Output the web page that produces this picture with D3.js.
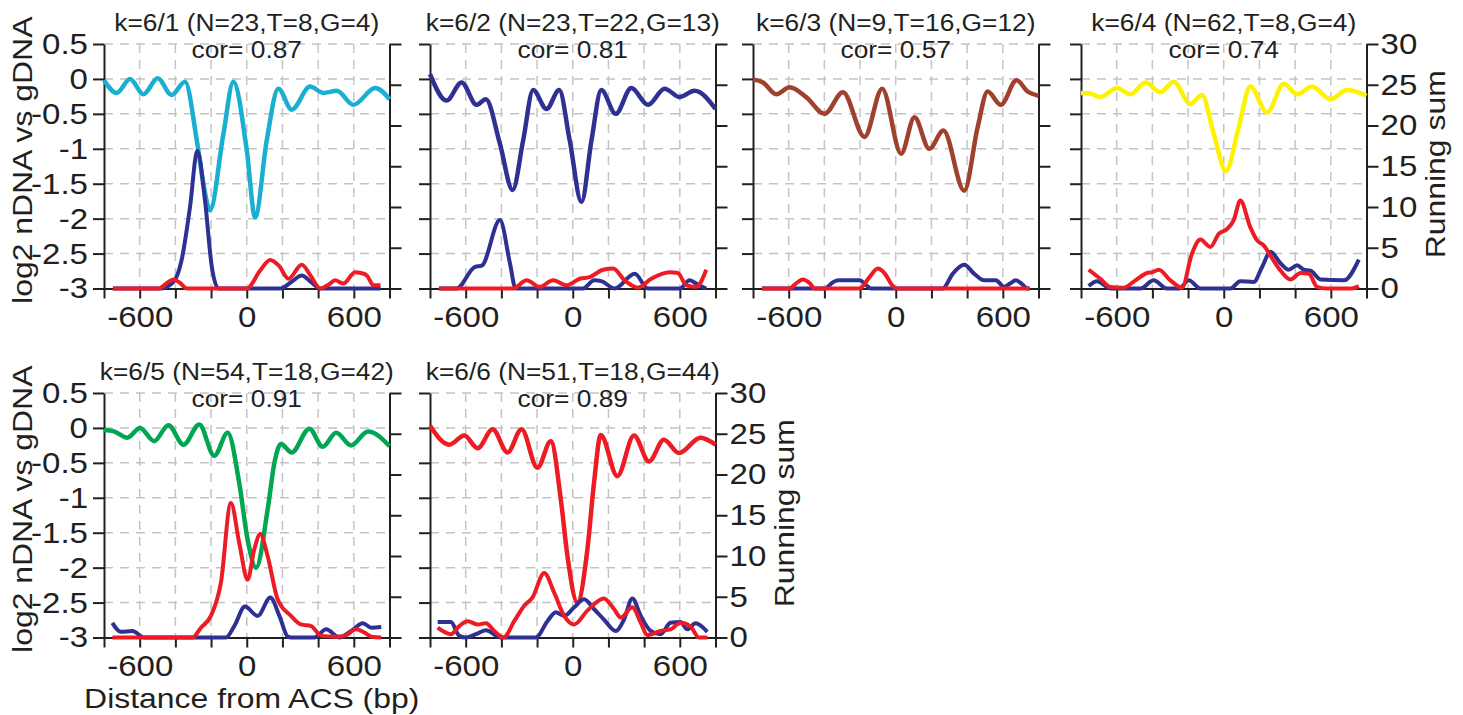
<!DOCTYPE html>
<html>
<head>
<meta charset="utf-8">
<script src="https://cdn.jsdelivr.net/npm/d3@7"></script>
<style>
body { margin: 0; background: #fff; }
svg text { font-family: "Liberation Sans", Arial, Helvetica, sans-serif; fill: #231f20; }
.grid line { stroke: #c4c4c4; stroke-width: 1.5; stroke-dasharray: 9,7; }
.axis path, .axis line { stroke: #231f20; stroke-width: 2; }
.axis text { font-size: 29.5px; }
</style>
</head>
<body>
<svg width="1463" height="715"></svg>
<script>
// panel headers
var titles = ['k=6/1 (N=23,T=8,G=4)', 'k=6/2 (N=23,T=22,G=13)', 'k=6/3 (N=9,T=16,G=12)',
              'k=6/4 (N=62,T=8,G=4)', 'k=6/5 (N=54,T=18,G=42)', 'k=6/6 (N=51,T=18,G=44)'];
var cors = ['0.87', '0.81', '0.57', '0.74', '0.91', '0.89'];
var mainColors = ['#1aafd0', '#2e3192', '#a0412d', '#fff200', '#00a651', '#ed1c24'];

var xTicks = [-800, -600, -400, -200, 0, 200, 400, 600, 800];
var xLabels = [-600, 0, 600];
var yLeftTicks = [0.5, 0, -0.5, -1, -1.5, -2, -2.5, -3];
var yRightTicks = [0, 5, 10, 15, 20, 25, 30];

// log2 nDNA vs gDNA  [bp, value]
var ratio1 = [[-800,-0.02],[-729,-0.2],[-654,0],[-579,-0.22],[-499,0.01],[-421,-0.23],[-346,-0.04],[-280,-0.88],[-243,-1.5],[-206,-1.88],[-131,-0.79],[-75,-0.04],[0,-1.02],[47,-1.98],[112,-0.88],[177,-0.14],[252,-0.44],[355,-0.11],[430,-0.2],[505,-0.17],[598,-0.37],[720,-0.13],[800,-0.29]];
var ratio2 = [[-800,0.07],[-707,-0.31],[-623,-0.05],[-539,-0.37],[-487,-0.29],[-408,-0.93],[-337,-1.59],[-278,-0.88],[-222,-0.16],[-147,-0.43],[-76,-0.16],[-17,-0.88],[49,-1.76],[105,-0.88],[160,-0.16],[241,-0.5],[328,-0.13],[422,-0.37],[515,-0.14],[599,-0.26],[683,-0.17],[800,-0.43]];
var ratio3 = [[-800,-0.01],[-744,-0.05],[-669,-0.22],[-595,-0.12],[-502,-0.26],[-399,-0.5],[-296,-0.19],[-175,-0.83],[-76,-0.14],[30,-1.07],[105,-0.55],[188,-1.0],[267,-0.74],[384,-1.6],[459,-0.69],[515,-0.18],[589,-0.37],[677,-0.02],[739,-0.18],[800,-0.24]];
var ratio4 = [[-800,-0.2],[-748,-0.21],[-692,-0.26],[-598,-0.13],[-523,-0.22],[-439,-0.05],[-355,-0.19],[-280,-0.04],[-187,-0.36],[-122,-0.23],[-56,-0.79],[13,-1.32],[84,-0.69],[149,-0.11],[243,-0.48],[336,-0.07],[411,-0.22],[495,-0.11],[598,-0.29],[691,-0.16],[800,-0.24]];
var ratio5 = [[-800,-0.03],[-744,-0.05],[-669,-0.14],[-598,0],[-519,-0.19],[-439,0.04],[-354,-0.24],[-266,0.05],[-182,-0.4],[-107,-0.07],[-42,-0.79],[5,-1.6],[52,-2.0],[117,-1.17],[155,-0.5],[192,-0.23],[252,-0.35],[351,-0.01],[426,-0.27],[501,-0.07],[585,-0.25],[679,-0.05],[800,-0.26]];
var ratio6 = [[-800,0.03],[-692,-0.24],[-608,-0.11],[-533,-0.29],[-449,-0.02],[-365,-0.35],[-287,-0.02],[-198,-0.57],[-123,-0.19],[-67,-1.02],[-30,-1.83],[26,-2.5],[82,-1.74],[119,-0.79],[157,-0.1],[250,-0.69],[343,-0.11],[427,-0.48],[511,-0.17],[595,-0.36],[716,-0.14],[800,-0.24]];

// running sums, navy series  [bp, count]
var navy1 = [[-750,0],[-486,0],[-411,0.8],[-365,3.5],[-318,10],[-277,16.9],[-234,10.8],[-196,2.7],[-159,0],[187,0],[250,0.8],[308,1.6],[360,0.8],[411,0],[750,0]];
var navy2 = [[-750,0],[-651,0],[-548,2.65],[-510,2.8],[-408,8.4],[-352,3.1],[-320,0],[58,0],[120,1],[160,0.9],[235,0],[347,1.8],[422,0],[600,0],[655,1],[700,0.5],[748,0]];
var navy3 = [[-750,0],[-399,0],[-350,0.8],[-320,1],[-203,1],[-160,0.3],[-140,0],[263,0],[319,1.8],[384,2.9],[440,1.8],[496,1],[561,1],[608,0.2],[640,0.6],[673,1],[705,0.6],[739,0],[750,0]];
var navy4 = [[-757,0.3],[-710,0.9],[-636,0],[-467,0],[-393,1],[-318,0],[-250,0],[-196,1],[-131,0],[37,0],[93,0.9],[168,0.8],[215,2.65],[262,4.5],[318,3.1],[364,2.3],[411,2.85],[449,2.3],[486,2.2],[542,1.1],[673,1],[757,3.55]];
var navy5 = [[-753,1.8],[-706,0.7],[-641,0.8],[-575,0],[-117,0],[-70,1.4],[-10,3.8],[61,2.65],[132,4.9],[183,2.65],[230,0.1],[250,0],[379,0],[445,1],[520,0],[585,0.8],[651,1.75],[698,1.2],[754,1.3]];
var navy6 = [[-757,1.9],[-683,1.9],[-636,0.2],[-599,0],[-543,0.4],[-487,0.9],[-403,0],[-207,0],[-142,2],[-95,3.1],[-48,2.65],[8,3.7],[63,4.7],[119,3.5],[175,2.2],[241,0.8],[287,2.2],[334,4.8],[381,2.65],[437,0.8],[492,0.4],[548,1.8],[604,1.9],[642,1],[688,1.75],[754,0.7]];

// running sums, red series
var red1 = [[-750,0],[-495,0],[-440,0.8],[-411,1.1],[-375,0.7],[-336,0],[0,0],[75,2.2],[131,3.5],[180,2.8],[234,1.2],[308,2.9],[360,1.5],[411,0],[460,0.5],[495,1],[542,0.6],[607,2],[640,1.9],[673,1.6],[710,0.4],[750,0.4]];
var red2 = [[-750,0],[-334,0],[-259,1],[-185,0.2],[-110,1],[-35,0.4],[39,1.2],[95,1.4],[170,2.3],[226,2.45],[291,1],[366,0.1],[440,1.2],[543,2],[589,1.9],[636,0.4],[692,0.2],[748,2.3]];
var red3 = [[-750,0],[-595,0],[-560,0.6],[-520,1.1],[-480,0.6],[-455,0],[-203,0],[-147,1.4],[-101,2.45],[-60,1.8],[-20,0.4],[2,0],[750,0]];
var red4 = [[-757,2.3],[-692,1.2],[-636,0.2],[-561,0.1],[-495,1],[-430,1.9],[-400,2.0],[-364,2.3],[-299,1],[-234,0.1],[-178,4.3],[-131,6],[-75,5.1],[-28,6.7],[19,7.3],[56,8.4],[93,10.8],[149,7.5],[187,5.9],[224,5.3],[271,3.7],[318,2.2],[374,1.1],[430,1.9],[477,1.8],[523,0.2],[579,0],[710,0],[757,0.3]];
var red5 = [[-753,0],[-304,0],[-257,1.2],[-201,2.65],[-145,6.7],[-89,16.5],[-42,11.6],[5,7.1],[42,10.8],[76,12.7],[117,10],[173,4.7],[248,2.65],[304,1.6],[361,1.4],[417,0.2],[492,0.1],[548,0.2],[613,1],[660,0.6],[698,0.1],[754,0]];
var red6 = [[-757,1.2],[-683,0.4],[-636,1.4],[-589,2],[-533,1.6],[-487,1.75],[-440,0.8],[-388,0],[-328,2],[-272,3.9],[-226,4.9],[-160,7.9],[-104,5.5],[-48,2.65],[8,1.6],[82,3.3],[175,4.8],[231,3.5],[269,2.45],[334,3.7],[381,1.8],[418,0.3],[492,0.8],[548,1],[604,1.8],[660,1.35],[707,0],[754,0]];

var ratios = [ratio1, ratio2, ratio3, ratio4, ratio5, ratio6];
var navys = [navy1, navy2, navy3, navy4, navy5, navy6];
var reds = [red1, red2, red3, red4, red5, red6];

var NAVY = '#2e3192', RED = '#ed1c24';
var colLeft = [104, 430, 753, 1081];
var rowTop = [44, 393];
var W = 285.5, H = 244.5;
var fmt = function(d) { return String(d); };

var svg = d3.select('svg');

function panel(i) {
	var row = i < 4 ? 0 : 1;
	var col = i < 4 ? i : i - 4;
	var lastInRow = (i === 3 || i === 5);
	var firstInRow = (col === 0);

	var x = d3.scaleLinear().domain([-800, 800]).range([0, W]);
	var yL = d3.scaleLinear().domain([-3, 0.5]).range([H, 0]);
	var yR = d3.scaleLinear().domain([0, 30]).range([H, 0]);

	var g = svg.append('g')
		.attr('transform', 'translate(' + colLeft[col] + ',' + rowTop[row] + ')');

	// dashed grid
	var grid = g.append('g').attr('class', 'grid');
	grid.selectAll('.v').data(xTicks.slice(1, -1)).enter().append('line')
		.attr('x1', x).attr('x2', x).attr('y1', 0).attr('y2', H);
	grid.selectAll('.h').data(yLeftTicks.slice(0, -1)).enter().append('line')
		.attr('x1', 0).attr('x2', W).attr('y1', yL).attr('y2', yL);

	// titles
	g.append('text').attr('x', W / 2).attr('y', -13)
		.attr('text-anchor', 'middle').style('font-size', '23.5px')
		.text(titles[i]);
	g.append('text').attr('x', W / 2).attr('y', 13.5)
		.attr('text-anchor', 'middle').style('font-size', '23.5px')
		.text('cor= ' + cors[i]);

	// axes
	g.append('g').attr('class', 'axis')
		.attr('transform', 'translate(0,' + H + ')')
		.call(d3.axisBottom(x).tickValues(xTicks).tickSize(10).tickPadding(8).tickSizeOuter(0)
			.tickFormat(function(d) { return xLabels.indexOf(d) >= 0 ? fmt(d) : ''; }));

	g.append('g').attr('class', 'axis')
		.call(d3.axisLeft(yL).tickValues(yLeftTicks).tickSize(11).tickPadding(5).tickSizeOuter(0)
			.tickFormat(firstInRow ? fmt : function() { return ''; }));

	g.append('g').attr('class', 'axis')
		.attr('transform', 'translate(' + W + ',0)')
		.call(d3.axisRight(yR).tickValues(yRightTicks).tickSize(12).tickPadding(2).tickSizeOuter(0)
			.tickFormat(lastInRow ? fmt : function() { return ''; }));

	// curves
	var lineL = d3.line().curve(d3.curveMonotoneX)
		.x(function(d) { return x(d[0]); }).y(function(d) { return yL(d[1]); });
	var lineR = d3.line().curve(d3.curveMonotoneX)
		.x(function(d) { return x(d[0]); }).y(function(d) { return yR(d[1]); });

	g.append('path').attr('d', lineL(ratios[i]))
		.attr('fill', 'none').attr('stroke', mainColors[i]).attr('stroke-width', 4.5);
	g.append('path').attr('d', lineR(navys[i]))
		.attr('fill', 'none').attr('stroke', NAVY).attr('stroke-width', 4);
	g.append('path').attr('d', lineR(reds[i]))
		.attr('fill', 'none').attr('stroke', RED).attr('stroke-width', 4);

	// axis titles
	if (firstInRow) {
		g.append('text')
			.attr('transform', 'translate(-72,' + (H / 2 - 6) + ') rotate(-90)')
			.attr('text-anchor', 'middle').style('font-size', '28.5px')
			.text('log2 nDNA vs gDNA');
	}
	if (lastInRow) {
		g.append('text')
			.attr('transform', 'translate(' + (W + 78) + ',' + (H / 2 - 2) + ') rotate(-90)')
			.attr('text-anchor', 'middle').style('font-size', '28.5px')
			.text('Running sum');
	}
	if (i === 4) {
		g.append('text').attr('x', W / 2 + 5).attr('y', H + 70)
			.attr('text-anchor', 'middle').style('font-size', '28.5px')
			.text('Distance from ACS (bp)');
	}
}

for (var i = 0; i < 6; i++) {
	panel(i);
}

// the original lettering is a little wider than Arial
svg.selectAll('text').each(function() {
	var len = this.getComputedTextLength();
	if (len > 0) {
		this.setAttribute('textLength', len * 1.12);
		this.setAttribute('lengthAdjust', 'spacingAndGlyphs');
	}
});
</script>
</body>
</html>
